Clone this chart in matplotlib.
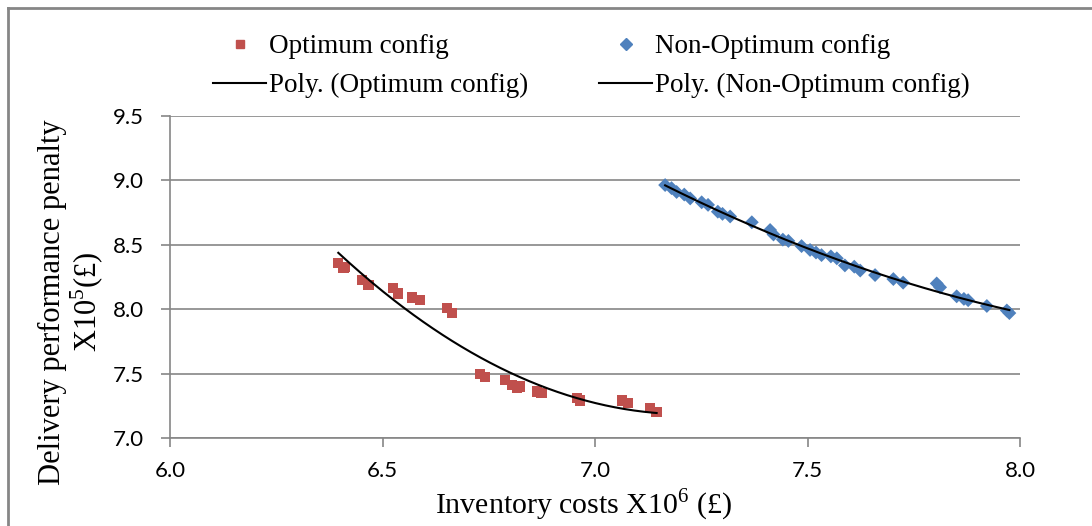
import numpy as np
import matplotlib.pyplot as plt
from matplotlib.lines import Line2D

# Optimum config (red squares)
opt_x = [6.396, 6.408, 6.412, 6.451, 6.467, 6.525, 6.537, 6.570, 6.588, 6.651, 6.663,
         6.729, 6.741, 6.788, 6.804, 6.816, 6.822, 6.863, 6.874, 6.957, 6.965,
         7.063, 7.078, 7.129, 7.145]
opt_y = [8.356, 8.318, 8.33, 8.227, 8.188, 8.162, 8.123, 8.092, 8.071, 8.007, 7.968,
         7.497, 7.476, 7.45, 7.411, 7.386, 7.40, 7.36, 7.347, 7.308, 7.29,
         7.29, 7.27, 7.235, 7.204]

# Non-Optimum config (blue diamonds)
non_x = [7.165, 7.180, 7.192, 7.210, 7.224, 7.251, 7.266, 7.289, 7.300, 7.318, 7.369,
         7.412, 7.420, 7.442, 7.455, 7.486, 7.506, 7.520, 7.533, 7.555, 7.569, 7.588,
         7.610, 7.624, 7.659, 7.702, 7.725, 7.804, 7.812, 7.851, 7.868, 7.878, 7.922,
         7.969, 7.975]
non_y = [8.964, 8.94, 8.91, 8.89, 8.86, 8.83, 8.81, 8.757, 8.74, 8.72, 8.675,
         8.615, 8.58, 8.54, 8.53, 8.49, 8.46, 8.44, 8.42, 8.41, 8.395, 8.34,
         8.33, 8.30, 8.265, 8.234, 8.206, 8.20, 8.17, 8.10, 8.08, 8.07, 8.025,
         7.99, 7.97]

xticks = [6.0, 6.5, 7.0, 7.5, 8.0]
yticks = [7.0, 7.5, 8.0, 8.5, 9.0, 9.5]

red = '#C0504D'
blue = '#4F81BD'
grid = '#868686'
serif = 'Liberation Serif'

plt.rcParams['mathtext.fontset'] = 'custom'
plt.rcParams['mathtext.rm'] = serif

fig = plt.figure(figsize=(10.92, 5.26), dpi=100)
ax = fig.add_axes([170/1092, 1-438/526, 850/1092, 322/526])

ax.scatter(opt_x, opt_y, marker='s', s=55, color=red, edgecolors='none', zorder=3)
ax.scatter(non_x, non_y, marker='D', s=50, color=blue, edgecolors='none', zorder=3)

# 2nd order polynomial trend lines
for xs, ys in [(opt_x, opt_y), (non_x, non_y)]:
    c = np.polyfit(xs, ys, 2)
    xx = np.linspace(min(xs), max(xs), 200)
    ax.plot(xx, np.polyval(c, xx), color='black', lw=1.5, zorder=4)

ax.set_xlim(6.0, 8.0)
ax.set_ylim(7.0, 9.5)
ax.set_xticks(xticks)
ax.set_yticks(yticks)
ax.set_xticklabels(['%.1f' % v for v in xticks], fontfamily='Lato', fontsize=16)
ax.set_yticklabels(['%.1f' % v for v in yticks], fontfamily='Lato', fontsize=16)
ax.grid(axis='y', color=grid, lw=1.2)
for s in ['top', 'right']:
    ax.spines[s].set_visible(False)
for s in ['left', 'bottom']:
    ax.spines[s].set_color(grid)
    ax.spines[s].set_linewidth(1.2)
ax.tick_params(axis='both', direction='out', length=6.5, color=grid, width=1.2)
ax.tick_params(axis='x', pad=10)
ax.tick_params(axis='y', pad=12)

ax.set_xlabel(r'Inventory costs X10$^{\mathrm{6}}$ (£)', fontfamily=serif, fontsize=21.5)
ax.xaxis.set_label_coords(0.487, -0.152)

fig.text(72/1092, 1-302/526, 'Delivery performance penalty\n' + r'X10$^{\mathrm{5}}$(£)',
         rotation=90, ha='center', va='center', multialignment='center',
         fontfamily=serif, fontsize=22, linespacing=1.05)

handles = [
    Line2D([], [], marker='s', color=red, ls='none', markersize=6),
    Line2D([], [], color='black', lw=1.5),
    Line2D([], [], marker='D', color=blue, ls='none', markersize=6),
    Line2D([], [], color='black', lw=1.5),
]
labels = ['Optimum config', 'Poly. (Optimum config)',
          'Non-Optimum config', 'Poly. (Non-Optimum config)']
fig.legend(handles, labels, ncol=2, loc='upper left', bbox_to_anchor=(189/1092, 1-10/526),
           frameon=False, prop={'family': serif, 'size': 19.5}, handlelength=1.95,
           handletextpad=0.12, columnspacing=2.6, labelspacing=0.5)

# outer chart border
fig.add_artist(Line2D([8/1092, 8/1092], [0, 1-8/526], color=grid, lw=2))
fig.add_artist(Line2D([8/1092, 1], [1-8/526, 1-8/526], color=grid, lw=2))

fig.savefig('out.png', dpi=100)
